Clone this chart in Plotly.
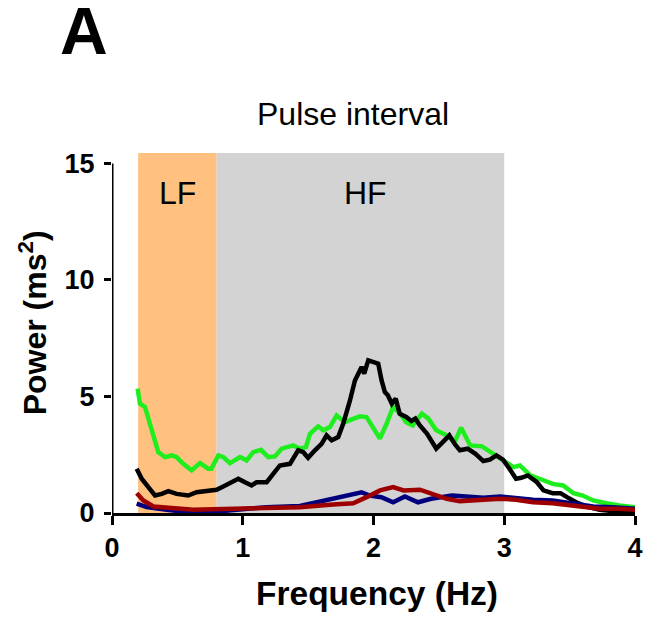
import plotly.graph_objects as go

# ---- data ----
green_x = [0.196, 0.214, 0.252, 0.303, 0.354, 0.405, 0.456, 0.494, 0.545, 0.609, 0.673, 0.736, 0.76,
           0.813, 0.851, 0.902, 0.979, 1.03, 1.08, 1.14, 1.195, 1.246, 1.297, 1.386, 1.437, 1.483,
           1.514, 1.577, 1.616, 1.667, 1.718, 1.78, 1.845, 1.896, 1.947, 1.998, 2.049, 2.10, 2.15,
           2.20, 2.25, 2.30, 2.37, 2.42, 2.48, 2.56, 2.62, 2.67, 2.74, 2.83, 2.90, 2.99, 3.07, 3.12,
           3.20, 3.27, 3.37, 3.45, 3.53, 3.60, 3.68, 3.78, 3.88, 4.0]
green_y = [5.34, 4.69, 4.55, 3.55, 2.61, 2.40, 2.47, 2.40, 2.11, 1.83, 2.14, 1.90, 1.90,
           2.47, 2.40, 2.14, 2.40, 2.26, 2.61, 2.71, 2.40, 2.43, 2.76, 2.90, 2.76, 2.83,
           3.40, 3.72, 3.55, 3.69, 4.19, 3.90, 4.05, 4.15, 4.12, 3.69, 3.19, 3.83, 4.55,
           4.29, 3.90, 3.76, 4.26, 4.05, 3.55, 3.33, 3.04, 3.66, 2.90, 2.86, 2.61, 2.26, 1.97, 2.04,
           1.61, 1.47, 1.25, 1.18, 0.85, 0.75, 0.54, 0.42, 0.32, 0.25]

black_x = [0.189, 0.227, 0.278, 0.329, 0.380, 0.431, 0.494, 0.583, 0.647, 0.724, 0.80, 0.851, 0.915,
           0.966, 1.017, 1.068, 1.106, 1.183, 1.233, 1.284, 1.361, 1.424, 1.463, 1.50, 1.552, 1.603,
           1.641, 1.68, 1.73, 1.768, 1.82, 1.858, 1.909, 1.929, 1.96, 1.998, 2.036, 2.062, 2.087,
           2.11, 2.14, 2.17, 2.20, 2.25, 2.29, 2.32, 2.355, 2.41, 2.44, 2.48, 2.53, 2.58, 2.62, 2.66,
           2.72, 2.78, 2.84, 2.89, 2.94, 2.99, 3.04, 3.09, 3.13, 3.18, 3.25, 3.30, 3.37, 3.43, 3.48,
           3.55, 3.63, 3.73, 3.83, 4.0]
black_y = [1.90, 1.47, 1.11, 0.75, 0.82, 0.94, 0.82, 0.75, 0.89, 0.94, 1.00, 1.14, 1.32,
           1.47, 1.32, 1.18, 1.32, 1.32, 1.68, 2.04, 2.11, 2.69, 2.61, 2.37, 2.69, 2.97,
           3.33, 3.12, 3.26, 3.83, 4.83, 5.69, 6.27, 5.98, 6.55, 6.48, 6.41, 5.69, 5.19,
           5.05, 4.69, 4.91, 4.26, 4.12, 3.95, 4.05, 3.76, 3.40, 3.12, 2.76, 3.04, 3.33, 2.97, 2.69,
           2.76, 2.54, 2.23, 2.29, 2.47, 2.29, 1.90, 1.47, 1.51, 1.61, 1.32, 0.97, 0.85, 0.85, 0.68,
           0.46, 0.28, 0.14, 0.08, 0.08]

blue_x = [0.189, 0.265, 0.418, 0.571, 0.76, 0.93, 1.18, 1.437, 1.565, 1.69, 1.82, 1.909, 1.97, 2.06,
          2.15, 2.24, 2.34, 2.44, 2.60, 2.71, 2.84, 2.97, 3.12, 3.22, 3.37, 3.53, 3.68, 3.83, 4.0]
blue_y = [0.40, 0.25, 0.14, 0.04, 0.04, 0.14, 0.25, 0.30, 0.46, 0.59, 0.73, 0.89, 0.75, 0.68,
          0.46, 0.71, 0.46, 0.61, 0.75, 0.71, 0.65, 0.71, 0.61, 0.57, 0.54, 0.40, 0.28, 0.25, 0.18]

red_x = [0.189, 0.24, 0.316, 0.469, 0.62, 0.93, 1.18, 1.437, 1.69, 1.845, 1.947, 2.05, 2.15, 2.23,
         2.355, 2.46, 2.56, 2.66, 2.81, 2.97, 3.09, 3.22, 3.37, 3.48, 3.60, 3.73, 3.88, 4.0]
red_y = [0.85, 0.54, 0.28, 0.22, 0.14, 0.18, 0.22, 0.25, 0.36, 0.42, 0.68, 0.97, 1.11, 0.97,
         1.00, 0.79, 0.61, 0.51, 0.54, 0.61, 0.57, 0.46, 0.42, 0.36, 0.25, 0.18, 0.18, 0.14]

bands = [("LF", 0.2, 0.8, "#FFC080"), ("HF", 0.8, 3.0, "#D3D3D3")]
x_ticks = [0, 1, 2, 3, 4]
y_ticks = [0, 5, 10, 15]

FONT = "Liberation Sans, Arial, sans-serif"

fig = go.Figure()
for xs, ys, col in [(green_x, green_y, "#1EEE1E"), (black_x, black_y, "#000000"),
                    (blue_x, blue_y, "#00007F"), (red_x, red_y, "#9E0000")]:
    fig.add_trace(go.Scatter(x=xs, y=ys, mode="lines",
                             line=dict(color=col, width=4.5), showlegend=False))

YTOP = 15.45
for name, a, b, col in bands:
    fig.add_shape(type="rect", xref="x", yref="y", x0=a, x1=b, y0=0, y1=YTOP,
                  fillcolor=col, line=dict(width=0), layer="below")
    fig.add_annotation(x=(a + b) / 2 if name == "LF" else 1.94, y=13.75, xref="x", yref="y",
                       text=name, showarrow=False,
                       font=dict(family=FONT, size=32, color="black"))

# y axis line only up to 15
fig.add_shape(type="line", xref="x", yref="y", x0=0, x1=0, y0=0, y1=15,
              line=dict(color="black", width=3), layer="above")

fig.add_annotation(xref="paper", yref="paper", x=-0.0535, y=1.34, text="<b>A</b>",
                   showarrow=False, xanchor="center", yanchor="middle",
                   font=dict(family=FONT, size=66, color="black"))
fig.add_annotation(xref="paper", yref="paper", x=0.461, y=1.107, text="Pulse interval",
                   showarrow=False, xanchor="center", yanchor="middle",
                   font=dict(family=FONT, size=32, color="black"))
fig.add_annotation(xref="paper", yref="paper", x=-0.151, y=0.527,
                   text="<b>Power (ms<sup>2</sup>)</b>", textangle=-90,
                   showarrow=False, xanchor="center", yanchor="middle",
                   font=dict(family=FONT, size=32, color="black"))
fig.add_annotation(xref="paper", yref="paper", x=0.506, y=-0.224,
                   text="<b>Frequency (Hz)</b>",
                   showarrow=False, xanchor="center", yanchor="middle",
                   font=dict(family=FONT, size=33.5, color="black"))

fig.update_layout(
    template="none",
    width=649, height=620,
    margin=dict(l=112, r=14, t=153, b=107, autoexpand=False),
    paper_bgcolor="white", plot_bgcolor="white",
    xaxis=dict(range=[0, 4], tickvals=x_ticks, ticks="outside", ticklen=9, tickwidth=3,
               tickcolor="black", showline=True, linewidth=3, linecolor="black",
               showgrid=False, zeroline=False, automargin=False,
               tickfont=dict(family=FONT, size=27, color="black", weight="bold")),
    yaxis=dict(range=[0, YTOP], tickvals=y_ticks, ticks="outside", ticklen=7, tickwidth=3,
               tickcolor="black", showline=False, showgrid=False, zeroline=False,
               automargin=False, ticklabelstandoff=4,
               tickfont=dict(family=FONT, size=27, color="black", weight="bold")),
)

fig.write_html("out.html")
